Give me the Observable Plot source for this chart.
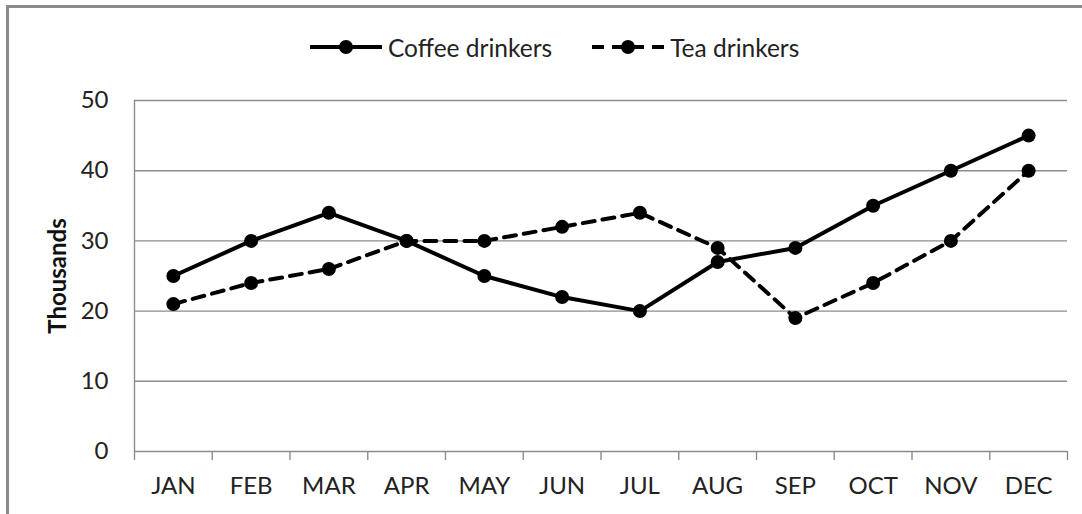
<!DOCTYPE html>
<html>
<head>
<meta charset="utf-8">
<script src="https://cdn.jsdelivr.net/npm/d3@7"></script>
<script src="https://cdn.jsdelivr.net/npm/@observablehq/plot@0.6"></script>
<style>
  body { margin: 0; background: #fff; }
  #wrap { position: relative; width: 1082px; height: 514px; overflow: hidden; font-family: Lato, "Noto Sans", sans-serif; color: #222; }
  #frame { position: absolute; left: 6px; top: 5px; width: 1200px; height: 700px; border-left: 3px solid #8a8a8a; border-top: 3px solid #8a8a8a; box-sizing: border-box; }
  #chart { position: absolute; left: 0; top: 0; }
  #legend { position: absolute; left: 310px; top: 33px; height: 28px; display: flex; align-items: center; font-size: 24.5px; white-space: nowrap; }
  .item { display: flex; align-items: center; }
  .item span { margin-left: 6px; }
  .item + .item { margin-left: 40px; }
</style>
</head>
<body>
<div id="wrap">
  <div id="frame"></div>
  <div id="chart"></div>
  <div id="legend"></div>
</div>
<script>
const months = ["JAN","FEB","MAR","APR","MAY","JUN","JUL","AUG","SEP","OCT","NOV","DEC"];
const coffee = [25, 30, 34, 30, 25, 22, 20, 27, 29, 35, 40, 45];
const tea    = [21, 24, 26, 30, 30, 32, 34, 29, 19, 24, 30, 40];
const yTicks = [0, 10, 20, 30, 40, 50];
const seriesNames = ["Coffee drinkers", "Tea drinkers"];
const yLabel = "Thousands";

const coffeeRows = months.map((m, i) => ({m, pos: i + 0.5, v: coffee[i]}));
const teaRows = months.map((m, i) => ({m, pos: i + 0.5, v: tea[i]}));
const boundaries = d3.range(months.length + 1);
const grid = "#8c8c8c";

const chart = Plot.plot({
  width: 1082,
  height: 514,
  marginLeft: 134,
  marginRight: 15,
  marginTop: 100,
  marginBottom: 63,
  x: {domain: [0, months.length], axis: null},
  y: {domain: [0, 50], axis: null},
  style: {fontFamily: "Lato, 'Noto Sans', sans-serif", fontSize: "24px", background: "transparent", color: "#222"},
  marks: [
    Plot.ruleY(yTicks, {stroke: grid, strokeWidth: 1.4}),
    Plot.ruleX([0], {y1: 0, y2: 50, stroke: grid, strokeWidth: 1.4}),
    Plot.axisX(boundaries, {tickSize: 9, tickFormat: () => "", label: null, stroke: grid, strokeWidth: 1.4, strokeOpacity: 1}),
    Plot.text(months, {x: (d, i) => i + 0.5, text: d => d, frameAnchor: "bottom", lineAnchor: "middle", dy: 35, fontSize: 24, fill: "#222"}),
    Plot.axisY(yTicks, {tickSize: 0, tickPadding: 26, fontSize: 24, fill: "#222", label: null}),
    Plot.text([yLabel], {frameAnchor: "left", textAnchor: "middle", dx: -76, rotate: -90, fontWeight: "bold", fontSize: 24, fill: "#111"}),
    Plot.line(teaRows, {x: "pos", y: "v", stroke: "black", strokeWidth: 4, strokeDasharray: "12,8"}),
    Plot.line(coffeeRows, {x: "pos", y: "v", stroke: "black", strokeWidth: 4}),
    Plot.dot(teaRows, {x: "pos", y: "v", fill: "black", r: 7}),
    Plot.dot(coffeeRows, {x: "pos", y: "v", fill: "black", r: 7})
  ]
});
document.getElementById("chart").appendChild(chart);

const legend = document.getElementById("legend");
seriesNames.forEach((name, k) => {
  const item = document.createElement("div");
  item.className = "item";
  const dash = k === 1 ? ' stroke-dasharray="12,8"' : '';
  item.innerHTML = `<svg width="72" height="20"><line x1="0" y1="10" x2="72" y2="10" stroke="black" stroke-width="4"${dash}></line><circle cx="36" cy="10" r="7" fill="black"></circle></svg><span>${name}</span>`;
  legend.appendChild(item);
});
</script>
</body>
</html>
